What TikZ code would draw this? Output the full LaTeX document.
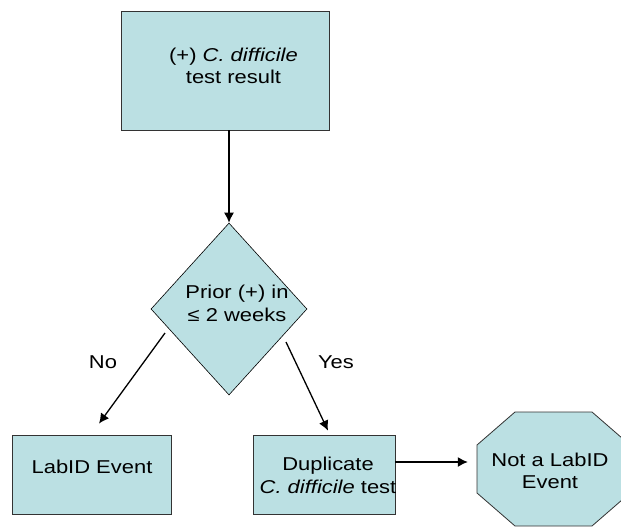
\documentclass[tikz,border=0pt]{standalone}
\usepackage{fontspec}
\setmainfont{Liberation Sans}[FakeStretch=1.18]
\usetikzlibrary{shapes.geometric,arrows.meta}
\definecolor{boxfill}{RGB}{187,224,227}
\tikzset{
  box/.style={draw=black!80,line width=0.8pt,fill=boxfill,inner sep=0pt},
  decision/.style={diamond,aspect=0.907,draw=black,line width=0.6pt,fill=boxfill,inner sep=0pt},
  txt/.style={align=center,inner sep=0pt},
  arr/.style={-{Latex[length=10pt,width=10pt]},line width=1.3pt},
}
\begin{document}
\begin{tikzpicture}[x=1pt,y=-1pt,font=\fontsize{18.6pt}{22.5pt}\selectfont]
\useasboundingbox (0,0) rectangle (621,527);
\clip (0,0) rectangle (621,527);
\node[box,minimum width=208pt,minimum height=119pt] (test) at (225,70.5) {};
\node[txt] (testtxt) at (233.5,66) {(+) \textit{C. difficile}\\test result};
\node[decision,minimum width=156pt,minimum height=172pt] (prior) at (229,309) {};
\node[txt] (priortxt) at (237,303.5) {Prior (+) in\\≤ 2 weeks};
\node[box,minimum width=159pt,minimum height=79pt] (labid) at (91.5,474.5) {};
\node[txt] (labidtxt) at (92,467) {LabID Event};
\node[box,minimum width=142pt,minimum height=79pt] (dup) at (324,474.5) {};
\node[txt] (duptxt) at (328,475.5) {Duplicate\\\textit{C. difficile} test};
%\draw (-1,-1) rectangle (1,1);
\draw[box] (515,412) -- (592,412) -- (630,445) -- (630,493) -- (592,526)
  -- (515,526) -- (477,493) -- (477,445) -- cycle;
\node[txt,minimum width=153pt,minimum height=114pt] (stop) at (553.5,469) {};
\node[txt] (stoptxt) at (550,471) {Not a LabID\\Event};
\node (no) at (103,362) {No};
\node (yes) at (336,362) {Yes};
\draw[arr] (test.south -| prior.north) -- (prior.north);
\draw[arr] ([shift={(-64pt,-24pt)}]prior.center) -- ([shift={(7.5pt,11pt)}]labid.north);
\draw[arr] ([shift={(57pt,-33pt)}]prior.center) -- ([shift={(4pt,4pt)}]dup.north);
\draw[arr,shorten >=9pt] ([yshift=12.5pt]dup.east) -- ([yshift=7pt]stop.west);
\end{tikzpicture}
\end{document}
